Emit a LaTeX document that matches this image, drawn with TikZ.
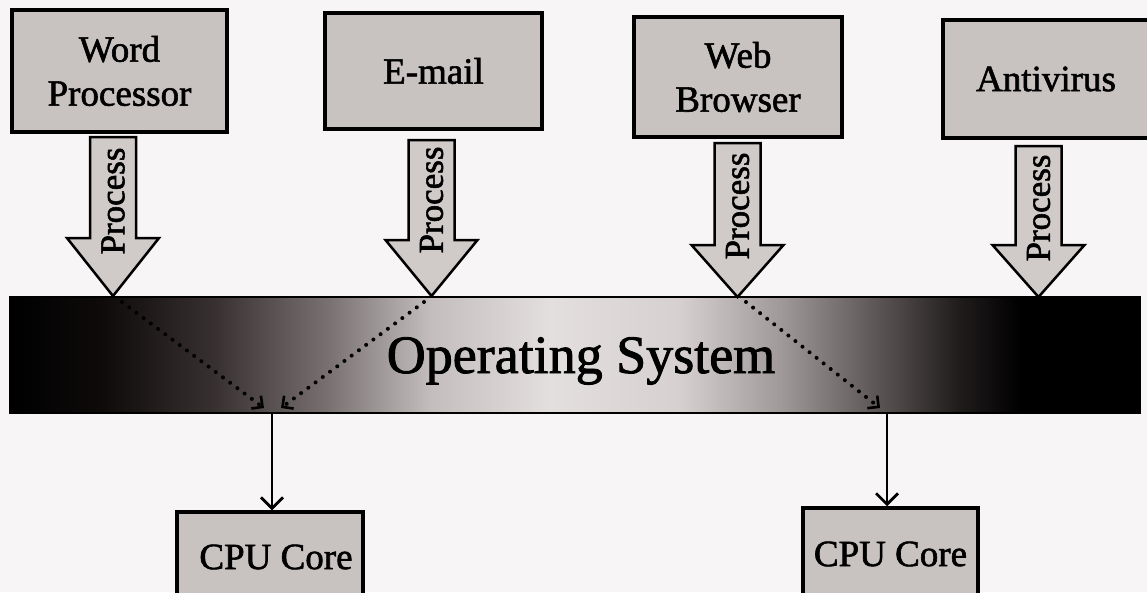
\documentclass[tikz,border=0pt]{standalone}
\usepackage{fontspec}
\setmainfont{Liberation Serif}[FakeBold=1.6]
\usetikzlibrary{arrows.meta}

\definecolor{paper}{RGB}{247,245,245}
\definecolor{boxfill}{RGB}{200,194,193}
\definecolor{arrowfill}{RGB}{208,202,201}
\definecolor{osA}{RGB}{14,10,10}
\definecolor{osB}{RGB}{55,48,48}
\definecolor{osC}{RGB}{120,112,112}
\definecolor{osD}{RGB}{195,189,189}
\definecolor{osE}{RGB}{228,223,223}
\definecolor{osF}{RGB}{214,208,208}
\definecolor{osG}{RGB}{160,153,153}
\definecolor{osH}{RGB}{90,83,83}
\definecolor{osI}{RGB}{32,28,28}

% dark ends, light middle of the operating-system bar
\pgfdeclarehorizontalshading{osgrad}{100bp}{%
  color(0bp)=(black); color(25bp)=(black); color(29bp)=(osA);
  color(34bp)=(osB); color(39bp)=(osC); color(43.6bp)=(osD);
  color(48.9bp)=(osE); color(54.6bp)=(osF); color(59.1bp)=(osG);
  color(63.5bp)=(osH); color(67bp)=(osI); color(69.7bp)=(black);
  color(100bp)=(black)}

\begin{document}
\begin{tikzpicture}[x=1pt,y=-1pt,
  appbox/.style={draw, line width=3.5pt, fill=boxfill, align=center,
    inner sep=0pt, font=\fontsize{37}{44}\selectfont},
  cpubox/.style={draw, line width=3.5pt, fill=boxfill, inner sep=0pt,
    font=\fontsize{37}{44}\selectfont},
  procarrow/.style={draw, line width=2.5pt, fill=arrowfill, line join=miter},
  proclabel/.style={rotate=90, inner sep=0pt, font=\fontsize{35}{40}\selectfont},
  flow/.style={draw, line width=2.8pt, -{Straight Barb[length=11pt,width=22pt,line width=2.8pt]}},
  dispatch/.style={draw, line width=4pt, line cap=round,
    dash pattern=on 0pt off 9pt,
    -{Straight Barb[length=8pt,width=16pt,line width=2.6pt]}}
]
\useasboundingbox (0,0) rectangle (1147,592);
\fill[paper] (0,0) rectangle (1147,592);

% applications
\node[appbox, minimum width=215pt, minimum height=122pt] (wp) at (119.5,71) {Word\\Processor};
\node[appbox, minimum width=217pt, minimum height=116pt] (em) at (433.5,71) {E-mail};
\node[appbox, minimum width=208pt, minimum height=120pt] (wb) at (738,77) {Web\\Browser};
\node[appbox, minimum width=206pt, minimum height=118pt] (av) at (1046,79) {Antivirus};

% operating system bar
\node[draw, line width=2pt, shading=osgrad, minimum width=1130pt,
      minimum height=116pt, inner sep=0pt] (os) at (575,355) {};
\node[anchor=base, inner sep=0pt, font=\fontsize{54}{60}\selectfont] (ostext) at (581,373) {Operating System};

% block arrows carrying each process into the operating system
\foreach \c/\t/\b/\p/\ly/\n in {113/137/238/296/201/pa, 431.5/140/240/296/200/pb,
                                 737.5/143/245/297/206/pc, 1038.5/146/245/297/208/pd}{
  \path[procarrow] ({\c-23},\t) -- ({\c+23},\t) -- ({\c+23},\b) -- ({\c+46},\b)
        -- (\c,\p) -- ({\c-46},\b) -- ({\c-23},\b) -- cycle;
  \node[proclabel] (\n) at (\c,\ly) {Process};
}

% cores
\node[cpubox, minimum width=186pt, minimum height=90pt] (cpu1) at (270,557) {\hspace{12pt}CPU Core};
\node[cpubox, minimum width=175pt, minimum height=92pt] (cpu2) at (890.5,554) {CPU Core};

\coordinate (out1) at (272,413);
\coordinate (out2) at (887,413);
\path[flow] (out1) -- (cpu1.north -| out1);
\path[flow] (out2) -- (cpu2.north -| out2);

% scheduling of processes onto cores
\coordinate (wpTip) at (122,302);
\coordinate (emTip) at (424,302);
\coordinate (wbTip) at (746,302);
\coordinate (in1a) at (264,408);
\coordinate (in1b) at (281,408);
\coordinate (in2) at (880,408);
\path[dispatch] (wpTip) -- (in1a);
\path[dispatch] (emTip) -- (in1b);
\path[dispatch] (wbTip) -- (in2);
\end{tikzpicture}
\end{document}
